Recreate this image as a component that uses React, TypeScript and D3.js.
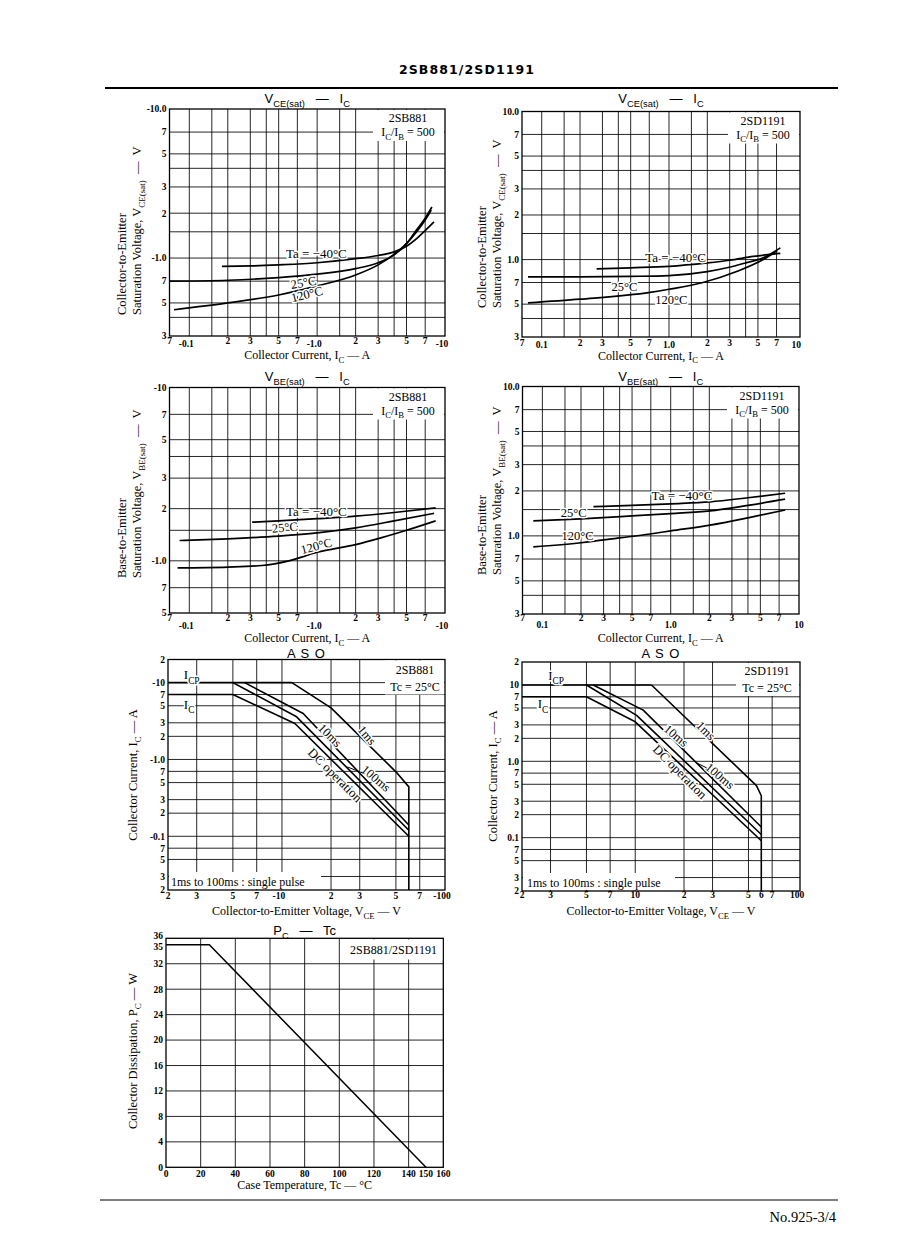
import React from "react";
import * as d3 from "d3";

type Pt = [number, number];
type Seg = { t: string; sub?: boolean };

// ---------------- Data: saturation-voltage charts ----------------
const icTicks = [0.07, 0.1, 0.2, 0.3, 0.5, 0.7, 1, 2, 3, 5, 7, 10];
const icLabels2SB = ["7", "-0.1", "2", "3", "5", "7", "-1.0", "2", "3", "5", "7", "-10"];
const icLabels2SD = ["7", "0.1", "2", "3", "5", "7", "1.0", "2", "3", "5", "7", "10"];
const icGrid = [0.1, 0.15, 0.2, 0.3, 0.4, 0.5, 0.7, 1, 1.5, 2, 3, 4, 5, 7];
const vGrid = [0.4, 0.5, 0.7, 1, 1.5, 2, 3, 4, 5, 7];
const vceTicks = [0.3, 0.5, 0.7, 1, 2, 3, 5, 7, 10];
const vceLabels2SB = ["3", "5", "7", "-1.0", "2", "3", "5", "7", "-10.0"];
const vceLabels2SD = ["3", "5", "7", "1.0", "2", "3", "5", "7", "10.0"];
const vbeTicks2SB = [0.5, 0.7, 1, 2, 3, 5, 7, 10];
const vbeLabels2SB = ["5", "7", "-1.0", "2", "3", "5", "7", "-10"];
const vbeTicks2SD = [0.3, 0.5, 0.7, 1, 2, 3, 5, 7, 10];
const vbeLabels2SD = ["3", "5", "7", "1.0", "2", "3", "5", "7", "10.0"];

// 2SB881 VCE(sat)
const vceB_m40: Pt[] = [[0.18, 0.88], [0.3, 0.885], [0.5, 0.9], [1, 0.93], [2, 0.99], [3, 1.04], [4, 1.1], [5, 1.2], [6, 1.35], [7, 1.53], [8.2, 1.75]];
const vceB_25: Pt[] = [[0.07, 0.7], [0.2, 0.71], [0.5, 0.74], [1, 0.78], [2, 0.85], [3, 0.93], [4, 1.05], [5, 1.25], [6, 1.55], [7, 1.85], [7.9, 2.2]];
const vceB_120: Pt[] = [[0.076, 0.45], [0.2, 0.5], [0.5, 0.565], [1, 0.65], [2, 0.77], [3, 0.9], [4, 1.06], [5, 1.25], [6, 1.5], [7, 1.8], [7.8, 2.1]];
// 2SD1191 VCE(sat)
const vceD_m40: Pt[] = [[0.27, 0.865], [0.5, 0.88], [1, 0.9], [2, 0.95], [3, 0.99], [4.6, 1.05], [6, 1.08], [7.5, 1.1]];
const vceD_25: Pt[] = [[0.078, 0.765], [0.2, 0.765], [0.5, 0.77], [1, 0.78], [2, 0.83], [2.85, 0.88], [4, 0.95], [5.5, 1.03], [7.5, 1.2]];
const vceD_120: Pt[] = [[0.078, 0.51], [0.2, 0.54], [0.71, 0.6], [1, 0.63], [1.85, 0.7], [3.4, 0.83], [5.5, 1.0], [7.1, 1.15]];
// 2SB881 VBE(sat)
const vbeB_m40: Pt[] = [[0.31, 1.67], [0.5, 1.7], [1, 1.75], [2, 1.81], [4, 1.9], [8.45, 2.02]];
const vbeB_25: Pt[] = [[0.084, 1.31], [0.2, 1.34], [0.5, 1.39], [1, 1.45], [2, 1.55], [4, 1.7], [8.2, 1.88]];
const vbeB_120: Pt[] = [[0.081, 0.91], [0.2, 0.92], [0.37, 0.94], [0.6, 1.0], [1, 1.12], [2, 1.24], [3.2, 1.36], [5, 1.5], [8.45, 1.7]];
// 2SD1191 VBE(sat)
const vbeD_m40: Pt[] = [[0.25, 1.57], [0.5, 1.6], [1, 1.64], [2.03, 1.69], [4, 1.8], [7.8, 1.93]];
const vbeD_25: Pt[] = [[0.085, 1.26], [0.2, 1.3], [0.5, 1.36], [1, 1.41], [2.03, 1.47], [4, 1.6], [7.8, 1.76]];
const vbeD_120: Pt[] = [[0.085, 0.845], [0.2, 0.9], [0.4, 0.97], [0.69, 1.03], [1, 1.08], [2.03, 1.18], [4, 1.32], [7.8, 1.49]];

// ---------------- Data: ASO ----------------
const asoXTicks2SB = [2, 3, 5, 7, 10, 20, 30, 50, 70, 100];
const asoXLabels2SB = ["2", "3", "5", "7", "-10", "2", "3", "5", "7", "-100"];
const asoXTicks2SD = [2, 3, 5, 7, 10, 20, 30, 50, 60, 70, 100];
const asoXLabels2SD = ["2", "3", "5", "7", "10", "2", "3", "5", "6", "7", "100"];
const asoXGrid = [3, 5, 7, 10, 20, 30, 50, 70];
const asoYGrid = [0.03, 0.05, 0.07, 0.1, 0.2, 0.3, 0.5, 0.7, 1, 2, 3, 5, 7, 10];
const asoYTicks = [0.02, 0.03, 0.05, 0.07, 0.1, 0.2, 0.3, 0.5, 0.7, 1, 2, 3, 5, 7, 10, 20];
const asoYLabels2SB = ["2", "3", "5", "7", "-0.1", "2", "3", "5", "7", "-1.0", "2", "3", "5", "7", "-10", "2"];
const asoYLabels2SD = ["2", "3", "5", "7", "0.1", "2", "3", "5", "7", "1.0", "2", "3", "5", "7", "10", "2"];

const asoB_icp: Pt[] = [[2, 10], [11.5, 10]];
const asoB_ic: Pt[] = [[2, 7], [5, 7]];
const asoB_1ms: Pt[] = [[11.5, 10], [20, 4.7], [50, 0.69], [60, 0.44], [60, 0.02]];
const asoB_10ms: Pt[] = [[5.9, 10], [13.5, 3.97], [60, 0.14]];
const asoB_100ms: Pt[] = [[5, 10], [12.3, 3.59], [60, 0.12]];
const asoB_dc: Pt[] = [[5, 7], [12, 2.94], [60, 0.1]];

const asoD_icp: Pt[] = [[2, 10], [12.6, 10]];
const asoD_ic: Pt[] = [[2, 7], [5, 7]];
const asoD_1ms: Pt[] = [[12.6, 10], [56, 0.48], [60, 0.354], [60, 0.02]];
const asoD_10ms: Pt[] = [[5.5, 10], [11.2, 4.68], [60, 0.138]];
const asoD_100ms: Pt[] = [[5, 10], [10.2, 4.0], [60, 0.11]];
const asoD_dc: Pt[] = [[5, 7], [10, 3.29], [60, 0.091]];

// ---------------- Data: Pc - Tc ----------------
const tcTicks = [0, 20, 40, 60, 80, 100, 120, 140, 150, 160];
const tcLabels = ["0", "20", "40", "60", "80", "100", "120", "140", "150", "160"];
const tcGrid = [20, 40, 60, 80, 100, 120, 140];
const pcTicks = [0, 4, 8, 12, 16, 20, 24, 28, 32, 35, 36];
const pcLabels = ["0", "4", "8", "12", "16", "20", "24", "28", "32", "35", "36"];
const pcGrid = [4, 8, 12, 16, 20, 24, 28, 32];
const pcDerating: Pt[] = [[0, 35], [25, 35], [150, 0]];

// ---------------- Rendering helpers ----------------
const SERIF = "'Liberation Serif','DejaVu Serif',serif";
const SANS = "'Liberation Sans','DejaVu Sans',sans-serif";

function Rich({ segs, size, halo, ...rest }: any) {
  let sub = false;
  const haloProps = halo ? { stroke: "#fff", strokeWidth: 3, paintOrder: "stroke", strokeLinejoin: "round" } : {};
  return (
    <text fontSize={size} style={{ whiteSpace: "pre" }} {...haloProps} {...rest}>
      {segs.map((s: Seg, i: number) => {
        let dy = 0;
        if (s.sub && !sub) dy = size * 0.32;
        if (!s.sub && sub) dy = -size * 0.32;
        sub = !!s.sub;
        return (
          <tspan key={i} dy={dy} fontSize={s.sub ? size * 0.72 : size}>
            {s.t}
          </tspan>
        );
      })}
    </text>
  );
}

type PanelProps = {
  l: number; r: number; t: number; b: number;
  xDomain: [number, number]; yDomain: [number, number];
  xLog?: boolean; yLog?: boolean;
  xGrid: number[]; yGrid: number[];
  xTicks: number[]; xLabels: string[]; xLabelY: (v: number) => number;
  yTicks: number[]; yLabels: string[]; yLabelDy?: (v: number) => number;
  title: Seg[]; titleY: number; titleSize?: number; titleFamily?: string; titleSpacing?: number;
  xTitle: Seg[]; xTitleY: number;
  yTitles: { segs: Seg[]; x: number; y: number; anchor: string }[];
  series: Pt[][]; smooth?: boolean; strokeW?: number;
  extra?: (x: any, y: any) => React.ReactNode;
};

function Panel(p: PanelProps) {
  const x: any = (p.xLog === false ? d3.scaleLinear() : d3.scaleLog()).domain(p.xDomain).range([p.l, p.r]);
  const y: any = (p.yLog === false ? d3.scaleLinear() : d3.scaleLog()).domain(p.yDomain).range([p.b, p.t]);
  const line = d3
    .line<Pt>()
    .x((d) => x(d[0]))
    .y((d) => y(d[1]))
    .curve(p.smooth ? d3.curveMonotoneX : d3.curveLinear);
  const cx = (p.l + p.r) / 2;
  return (
    <g>
      {p.xGrid.map((v) => (
        <line key={"gx" + v} x1={x(v)} x2={x(v)} y1={p.b} y2={p.t} stroke="#000" strokeWidth={0.85} />
      ))}
      {p.yGrid.map((v) => (
        <line key={"gy" + v} x1={p.l} x2={p.r} y1={y(v)} y2={y(v)} stroke="#000" strokeWidth={0.85} />
      ))}
      <rect x={p.l} y={p.t} width={p.r - p.l} height={p.b - p.t} fill="none" stroke="#000" strokeWidth={1.3} />
      {p.series.map((s, i) => (
        <path key={"s" + i} d={line(s) || ""} fill="none" stroke="#000" strokeWidth={p.strokeW ?? 1.7} strokeLinejoin="round" />
      ))}
      {p.xTicks.map((v, i) => (
        <text
          key={"xt" + i}
          x={x(v)}
          dx={p.xLabels[i].startsWith("-") ? -3 : 0}
          y={p.xLabelY(v)}
          textAnchor="middle"
          fontSize={9.5}
          fontWeight={700}
        >
          {p.xLabels[i]}
        </text>
      ))}
      {p.yTicks.map((v, i) => (
        <text
          key={"yt" + i}
          x={p.l - 3}
          y={y(v) + (p.yLabelDy ? p.yLabelDy(v) : 0)}
          dy="0.35em"
          textAnchor="end"
          fontSize={9.5}
          fontWeight={700}
        >
          {p.yLabels[i]}
        </text>
      ))}
      <Rich
        segs={p.title}
        size={p.titleSize ?? 13}
        x={cx}
        y={p.titleY}
        textAnchor="middle"
        fontFamily={p.titleFamily ?? SANS}
        letterSpacing={p.titleSpacing ?? 0}
      />
      <Rich segs={p.xTitle} size={12} x={cx} y={p.xTitleY} textAnchor="middle" />
      {p.yTitles.map((yt, i) => (
        <Rich key={"ytt" + i} segs={yt.segs} size={12.5} x={0} y={0} textAnchor={yt.anchor} transform={`translate(${yt.x},${yt.y}) rotate(-90)`} />
      ))}
      {p.extra ? p.extra(x, y) : null}
    </g>
  );
}

const satTitle = (kind: string): Seg[] => [{ t: "V" }, { t: kind, sub: true }, { t: "   —   I" }, { t: "C", sub: true }];
const icTitle: Seg[] = [{ t: "Collector Current, I" }, { t: "C", sub: true }, { t: " — A" }];
const ratio: Seg[] = [{ t: "I" }, { t: "C", sub: true }, { t: "/I" }, { t: "B", sub: true }, { t: " = 500" }];

function Corner({ r, t, name, second }: { r: number; t: number; name: string; second: Seg[] }) {
  return (
    <g>
      <rect x={r - 72} y={t + 1} width={71} height={31} fill="#fff" />
      <text x={r - 37} y={t + 13} textAnchor="middle" fontSize={12}>
        {name}
      </text>
      <Rich segs={second} size={12} x={r - 37} y={t + 27} textAnchor="middle" />
    </g>
  );
}

function CurveLabel({ x, y, text, rot = 0, size = 12.5, anchor = "start", mid = false }: any) {
  return (
    <text
      transform={`translate(${x},${y}) rotate(${rot})`}
      textAnchor={anchor}
      dy={mid ? "0.35em" : undefined}
      fontSize={size}
      stroke="#fff"
      strokeWidth={3}
      paintOrder="stroke"
      strokeLinejoin="round"
      style={{ whiteSpace: "pre" }}
    >
      {text}
    </text>
  );
}

const decades = new Set([0.1, 1, 10]);

export default function App() {
  return (
    <svg
      width={898}
      height={1260}
      style={{ position: "absolute", left: 0, top: 0, background: "#fff" }}
      fontFamily={SERIF}
    >
      <rect width={898} height={1260} fill="#fff" />
      <text x={467} y={74} textAnchor="middle" fontFamily="'DejaVu Sans',sans-serif" fontWeight={700} fontSize={12.5} letterSpacing={1.1}>
        2SB881/2SD1191
      </text>
      <line x1={105} x2={838} y1={88} y2={88} stroke="#000" strokeWidth={2} />

      {/* Chart 1: VCE(sat) - IC, 2SB881 */}
      <Panel
        l={169.5} r={445} t={109} b={336}
        xDomain={[0.07, 10]} yDomain={[0.3, 10]}
        xGrid={icGrid} yGrid={vGrid}
        xTicks={icTicks} xLabels={icLabels2SB}
        xLabelY={(v) => (decades.has(v) ? 346.5 : 344)}
        yTicks={vceTicks} yLabels={vceLabels2SB}
        title={satTitle("CE(sat)")} titleY={103}
        xTitle={icTitle} xTitleY={359}
        yTitles={[
          { segs: [{ t: "Collector-to-Emitter" }], x: 125.5, y: 315, anchor: "start" },
          { segs: [{ t: "Saturation Voltage, V" }, { t: "CE(sat)", sub: true }, { t: "  —  V" }], x: 140.5, y: 315, anchor: "start" },
        ]}
        series={[vceB_m40, vceB_25, vceB_120]} smooth
        extra={(x, y) => (
          <g>
            <Corner r={445} t={109} name="2SB881" second={ratio} />
            <CurveLabel x={x(0.57)} y={y(1.0)} text="Ta = −40°C" size={13} />
            <CurveLabel x={x(0.63)} y={y(0.62)} text="25°C" rot={-10} />
            <CurveLabel x={x(0.64)} y={y(0.505)} text="120°C" rot={-14} />
          </g>
        )}
      />

      {/* Chart 2: VCE(sat) - IC, 2SD1191 */}
      <Panel
        l={522} r={800} t={111.5} b={337}
        xDomain={[0.07, 10.7]} yDomain={[0.3, 10]}
        xGrid={icGrid} yGrid={vGrid}
        xTicks={icTicks} xLabels={icLabels2SD}
        xLabelY={(v) => (decades.has(v) ? 347.5 : 345.5)}
        yTicks={vceTicks} yLabels={vceLabels2SD}
        title={satTitle("CE(sat)")} titleY={103}
        xTitle={icTitle} xTitleY={359.5}
        yTitles={[
          { segs: [{ t: "Collector-to-Emitter" }], x: 485.5, y: 308, anchor: "start" },
          { segs: [{ t: "Saturation Voltage, V" }, { t: "CE(sat)", sub: true }, { t: "  —  V" }], x: 500.5, y: 308, anchor: "start" },
        ]}
        series={[vceD_m40, vceD_25, vceD_120]} smooth
        extra={(x, y) => (
          <g>
            <Corner r={800} t={111.5} name="2SD1191" second={ratio} />
            <CurveLabel x={x(0.65)} y={y(0.96)} text="Ta = −40°C" size={13} />
            <CurveLabel x={x(0.354)} y={y(0.61)} text="25°C" />
            <CurveLabel x={x(0.78)} y={y(0.5)} text="120°C" />
          </g>
        )}
      />

      {/* Chart 3: VBE(sat) - IC, 2SB881 */}
      <Panel
        l={169.5} r={445} t={387.5} b={613}
        xDomain={[0.07, 10]} yDomain={[0.5, 10]}
        xGrid={icGrid} yGrid={vGrid.filter((v) => v > 0.5)}
        xTicks={icTicks} xLabels={icLabels2SB}
        xLabelY={(v) => (decades.has(v) ? 629 : 621)}
        yTicks={vbeTicks2SB} yLabels={vbeLabels2SB}
        title={satTitle("BE(sat)")} titleY={381}
        xTitle={icTitle} xTitleY={642}
        yTitles={[
          { segs: [{ t: "Base-to-Emitter" }], x: 125.5, y: 578, anchor: "start" },
          { segs: [{ t: "Saturation Voltage, V" }, { t: "BE(sat)", sub: true }, { t: "  —  V" }], x: 140.5, y: 578, anchor: "start" },
        ]}
        series={[vbeB_m40, vbeB_25, vbeB_120]} smooth
        extra={(x, y) => (
          <g>
            <Corner r={445} t={387.5} name="2SB881" second={ratio} />
            <CurveLabel x={x(0.57)} y={y(1.81)} text="Ta = −40°C" size={13} />
            <CurveLabel x={x(0.445)} y={y(1.45)} text="25°C" rot={-5} />
            <CurveLabel x={x(0.76)} y={y(1.09)} text="120°C" rot={-15} />
          </g>
        )}
      />

      {/* Chart 4: VBE(sat) - IC, 2SD1191 */}
      <Panel
        l={522.5} r={799} t={386.5} b={614}
        xDomain={[0.07, 10]} yDomain={[0.3, 10]}
        xGrid={icGrid} yGrid={vGrid}
        xTicks={icTicks} xLabels={icLabels2SD}
        xLabelY={(v) => (decades.has(v) ? 628 : 620.5)}
        yTicks={vbeTicks2SD} yLabels={vbeLabels2SD}
        title={satTitle("BE(sat)")} titleY={381}
        xTitle={icTitle} xTitleY={642}
        yTitles={[
          { segs: [{ t: "Base-to-Emitter" }], x: 485.5, y: 575, anchor: "start" },
          { segs: [{ t: "Saturation Voltage, V" }, { t: "BE(sat)", sub: true }, { t: "  —  V" }], x: 500.5, y: 575, anchor: "start" },
        ]}
        series={[vbeD_m40, vbeD_25, vbeD_120]} smooth
        extra={(x, y) => (
          <g>
            <Corner r={799} t={386.5} name="2SD1191" second={ratio} />
            <CurveLabel x={x(0.71)} y={y(1.74)} text="Ta = −40°C" size={13} />
            <CurveLabel x={x(0.139)} y={y(1.33)} text="25°C" />
            <CurveLabel x={x(0.141)} y={y(0.94)} text="120°C" />
          </g>
        )}
      />

      {/* Chart 5: ASO 2SB881 */}
      <Panel
        l={168} r={445} t={659.5} b={890}
        xDomain={[2, 100]} yDomain={[0.02, 20]}
        xGrid={asoXGrid} yGrid={asoYGrid}
        xTicks={asoXTicks2SB} xLabels={asoXLabels2SB}
        xLabelY={() => 898.5}
        yTicks={asoYTicks} yLabels={asoYLabels2SB}
        title={[{ t: "A S O" }]} titleY={657.5} titleSpacing={1}
        xTitle={[{ t: "Collector-to-Emitter Voltage, V" }, { t: "CE", sub: true }, { t: " — V" }]} xTitleY={915}
        yTitles={[{ segs: icTitle, x: 137, y: 775, anchor: "middle" }]}
        series={[asoB_icp, asoB_ic, asoB_1ms, asoB_10ms, asoB_100ms, asoB_dc]}
        strokeW={1.6}
        extra={(x, y) => (
          <g>
            <rect x={445 - 60} y={660.5} width={59} height={34} fill="#fff" />
            <text x={415} y={674} textAnchor="middle" fontSize={12}>2SB881</text>
            <text x={415} y={691} textAnchor="middle" fontSize={12}>Tc = 25°C</text>
            <rect x={169} y={872} width={152} height={17} fill="#fff" />
            <text x={171} y={886} fontSize={12}>1ms to 100ms : single pulse</text>
            <Rich segs={[{ t: "I" }, { t: "CP", sub: true }]} size={13} x={x(2.5)} y={y(11.0)} halo />
            <Rich segs={[{ t: "I" }, { t: "C", sub: true }]} size={13} x={x(2.5)} y={y(4.6)} halo />
            <CurveLabel x={x(33.2)} y={y(2.07)} text="1ms" rot={50} anchor="middle" mid />
            <CurveLabel x={x(19.7)} y={y(2.07)} text="10ms" rot={45} anchor="middle" mid />
            <CurveLabel x={x(37.8)} y={y(0.57)} text="100ms" rot={40} anchor="middle" mid />
            <line x1={x(25.2)} y1={y(0.8)} x2={x(31.6)} y2={y(0.66)} stroke="#000" strokeWidth={1} />
            <CurveLabel x={x(21.2)} y={y(0.63)} text="DC operation" rot={45} anchor="middle" size={13} mid />
          </g>
        )}
      />

      {/* Chart 6: ASO 2SD1191 */}
      <Panel
        l={522} r={800} t={662} b={891}
        xDomain={[2, 104]} yDomain={[0.02, 20]}
        xGrid={asoXGrid} yGrid={asoYGrid}
        xTicks={asoXTicks2SD} xLabels={asoXLabels2SD}
        xLabelY={() => 898}
        yTicks={asoYTicks} yLabels={asoYLabels2SD}
        title={[{ t: "A S O" }]} titleY={657.5} titleSpacing={1}
        xTitle={[{ t: "Collector-to-Emitter Voltage, V" }, { t: "CE", sub: true }, { t: " — V" }]} xTitleY={915}
        yTitles={[{ segs: icTitle, x: 497, y: 776, anchor: "middle" }]}
        series={[asoD_icp, asoD_ic, asoD_1ms, asoD_10ms, asoD_100ms, asoD_dc]}
        strokeW={1.6}
        extra={(x, y) => (
          <g>
            <rect x={800 - 64} y={663} width={63} height={33} fill="#fff" />
            <text x={767} y={675} textAnchor="middle" fontSize={12}>2SD1191</text>
            <text x={767} y={692} textAnchor="middle" fontSize={12}>Tc = 25°C</text>
            <rect x={523} y={873} width={152} height={17} fill="#fff" />
            <text x={527} y={887} fontSize={12}>1ms to 100ms : single pulse</text>
            <Rich segs={[{ t: "I" }, { t: "CP", sub: true }]} size={13} x={x(2.9)} y={y(11.6)} halo />
            <Rich segs={[{ t: "I" }, { t: "C", sub: true }]} size={13} x={x(2.5)} y={y(4.93)} halo />
            <CurveLabel x={x(27.3)} y={y(2.53)} text="1ms" rot={45} anchor="middle" mid />
            <CurveLabel x={x(17.9)} y={y(2.17)} text="10ms" rot={40} anchor="middle" mid />
            <CurveLabel x={x(33.4)} y={y(0.645)} text="100ms" rot={40} anchor="middle" mid />
            <line x1={x(23.9)} y1={y(0.955)} x2={x(27.6)} y2={y(0.82)} stroke="#000" strokeWidth={1} />
            <CurveLabel x={x(18.9)} y={y(0.73)} text="DC operation" rot={45} anchor="middle" size={13} mid />
          </g>
        )}
      />

      {/* Chart 7: Pc - Tc */}
      <Panel
        l={166} r={443.3} t={938.3} b={1167.3}
        xLog={false} yLog={false}
        xDomain={[0, 160]} yDomain={[0, 36]}
        xGrid={tcGrid} yGrid={pcGrid}
        xTicks={tcTicks} xLabels={tcLabels}
        xLabelY={() => 1177}
        yTicks={pcTicks} yLabels={pcLabels}
        yLabelDy={(v) => (v === 36 ? -2.5 : v === 35 ? 2.5 : 0)}
        title={[{ t: "P" }, { t: "C", sub: true }, { t: "   —   Tc" }]} titleY={935}
        xTitle={[{ t: "Case Temperature, Tc — °C" }]} xTitleY={1189}
        yTitles={[{ segs: [{ t: "Collector Dissipation, P" }, { t: "C", sub: true }, { t: " — W" }], x: 137, y: 1051, anchor: "middle" }]}
        series={[pcDerating]}
        strokeW={1.5}
        extra={() => (
          <g>
            <rect x={443.3 - 100} y={939.5} width={99} height={20} fill="#fff" />
            <text x={393.5} y={954} textAnchor="middle" fontSize={12}>2SB881/2SD1191</text>
          </g>
        )}
      />

      <line x1={100} x2={838} y1={1200} y2={1200} stroke="#000" strokeWidth={1} />
      <text x={836} y={1222} textAnchor="end" fontSize={14.5}>No.925-3/4</text>
    </svg>
  );
}
